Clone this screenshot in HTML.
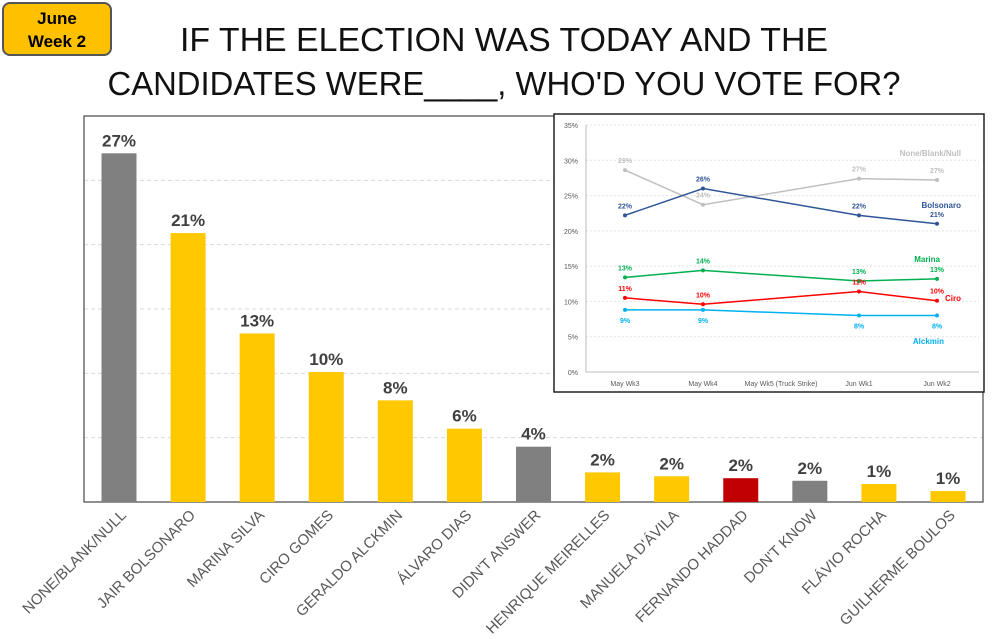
<!DOCTYPE html>
<html><head><meta charset="utf-8"><style>
html,body{margin:0;padding:0;background:#fff;}
body{width:998px;height:634px;overflow:hidden;position:relative;font-family:"Liberation Sans",sans-serif;}
</style></head><body>
<svg width="998" height="634" xmlns="http://www.w3.org/2000/svg" id="svg">
<g>
<rect x="3" y="3" width="108" height="52" rx="7" fill="#ffc000" stroke="#555" stroke-width="2"/>
<text x="57" y="24" text-anchor="middle" font-size="17" font-weight="bold" fill="#000">June</text>
<text x="57" y="47" text-anchor="middle" font-size="17" font-weight="bold" fill="#000">Week 2</text>
</g>
<text x="504" y="51" text-anchor="middle" font-size="33" textLength="648" lengthAdjust="spacingAndGlyphs" fill="#111">IF THE ELECTION WAS TODAY AND THE</text>
<text x="504" y="95" text-anchor="middle" font-size="33" textLength="793" lengthAdjust="spacingAndGlyphs" fill="#111">CANDIDATES WERE____, WHO'D YOU VOTE FOR?</text>
<g id="main"></g>
<g id="inset"></g>
</svg>
<script>
const cats=["NONE/BLANK/NULL","JAIR BOLSONARO","MARINA SILVA","CIRO GOMES","GERALDO ALCKMIN","ÁLVARO DIAS","DIDN'T ANSWER","HENRIQUE MEIRELLES","MANUELA D'ÁVILA","FERNANDO HADDAD","DON'T KNOW","FLÁVIO ROCHA","GUILHERME BOULOS"];
const vals=[27.1,20.9,13.1,10.1,7.9,5.7,4.3,2.3,2.0,1.85,1.65,1.4,0.85];
const labels=["27%","21%","13%","10%","8%","6%","4%","2%","2%","2%","2%","1%","1%"];
const barColors=["#808080","#ffc800","#ffc800","#ffc800","#ffc800","#ffc800","#808080","#ffc800","#ffc800","#c00000","#808080","#ffc800","#ffc800"];
const yTicks=[5,10,15,20,25];

const weeks=["May Wk3","May Wk4","May Wk5 (Truck Strike)","Jun Wk1","Jun Wk2"];
const sNone=[28.6,23.7,null,27.4,27.2];
const sBols=[22.2,26.0,null,22.2,21.0];
const sMarina=[13.4,14.4,null,12.9,13.2];
const sCiro=[10.5,9.6,null,11.4,10.1];
const sAlck=[8.8,8.8,null,8.0,8.0];
const insetTicks=[0,5,10,15,20,25,30,35];

const NS="http://www.w3.org/2000/svg";
function mk(tag,attrs,parent,txt){const e=document.createElementNS(NS,tag);for(const k in attrs)e.setAttribute(k,attrs[k]);if(txt!==undefined)e.textContent=txt;parent.appendChild(e);return e;}

const main=document.getElementById('main');
const L=84,R=983,T=116,B=502,YMAX=30;
const y=v=>B-(v/YMAX)*(B-T);
const step=(948-119)/12;
const x=i=>119+i*step;
yTicks.forEach(t=>{const g=mk('line',{x1:L,x2:R,y1:y(t),y2:y(t),stroke:'#d9d9d9','stroke-dasharray':'4,3'},main);

});
const fr=mk('rect',{x:L,y:T,width:R-L,height:B-T,fill:'none',stroke:'#555','stroke-width':1.3},main);


vals.forEach((v,i)=>{
 const b=mk('rect',{x:x(i)-17.5,y:y(v),width:35,height:B-y(v),fill:barColors[i]},main);
 
 
 const t=mk('text',{x:x(i),y:y(v)-7,'text-anchor':'middle','font-size':17,'font-weight':'bold',fill:'#404040'},main,labels[i]);
 
 
 const c=mk('text',{x:0,y:0,'text-anchor':'end','font-size':15,fill:'#595959',transform:`translate(${x(i)+8},${B+14}) rotate(-45)`},main,cats[i]);
 
 
});

const ins=document.getElementById('inset');
const bg=mk('rect',{x:554,y:114,width:430,height:278,fill:'#fff',stroke:'#222','stroke-width':1.5},ins);


const IL=586,IR=979,IT=125,IB=372;
const iy=v=>IB-(v/35)*(IB-IT);
const ix=i=>625+i*78;
insetTicks.forEach(t=>{
 if(t>0){const g=mk('line',{x1:IL,x2:IR,y1:iy(t),y2:iy(t),stroke:'#e4e4e4','stroke-dasharray':'2,2'},ins);
 
 }
 const tl=mk('text',{x:IL-8,y:iy(t)+3,'text-anchor':'end','font-size':7,fill:'#595959'},ins,t+'%');
 
 
});
mk('line',{x1:IL,x2:IL,y1:IT,y2:IB,stroke:'#bbb'},ins);
mk('line',{x1:IL,x2:IR,y1:IB,y2:IB,stroke:'#bbb'},ins);
weeks.forEach((w,i)=>{const t=mk('text',{x:ix(i),y:386,'text-anchor':'middle','font-size':7,fill:'#595959'},ins,w);

});
const series=[
 {d:sNone,c:'#bfbfbf',n:'None/Blank/Null',lx:961,ly:156,off:[-7,-7,0,-7,-7]},
 {d:sBols,c:'#2f5597',n:'Bolsonaro',lx:961,ly:208,off:[-7,-7,0,-7,-7]},
 {d:sMarina,c:'#00b050',n:'Marina',lx:940,ly:262,off:[-7,-7,0,-7,-7]},
 {d:sCiro,c:'#ff0000',n:'Ciro',lx:961,ly:301,off:[-7,-7,0,-7,-7]},
 {d:sAlck,c:'#00b0f0',n:'Alckmin',lx:944,ly:344,off:[13,13,0,13,13]}];
series.forEach(s=>{
 const pts=[];s.d.forEach((v,i)=>{if(v!==null)pts.push([ix(i),iy(v)]);});
 const p=mk('polyline',{points:pts.map(p=>p.join(',')).join(' '),fill:'none',stroke:s.c,'stroke-width':1.5},ins);
 
 
 s.d.forEach((v,i)=>{if(v===null)return;
  const c=mk('circle',{cx:ix(i),cy:iy(v),r:2,fill:s.c},ins);
  
  
  const t=mk('text',{x:ix(i),y:iy(v)+s.off[i],'text-anchor':'middle','font-size':7,'font-weight':'bold',fill:s.c},ins,Math.round(v)+'%');
  
  
 });
 const lt=mk('text',{x:s.lx,y:s.ly,'text-anchor':'end','font-size':8,'font-weight':'bold',fill:s.c},ins,s.n);
 
 
});
</script>
</body></html>
